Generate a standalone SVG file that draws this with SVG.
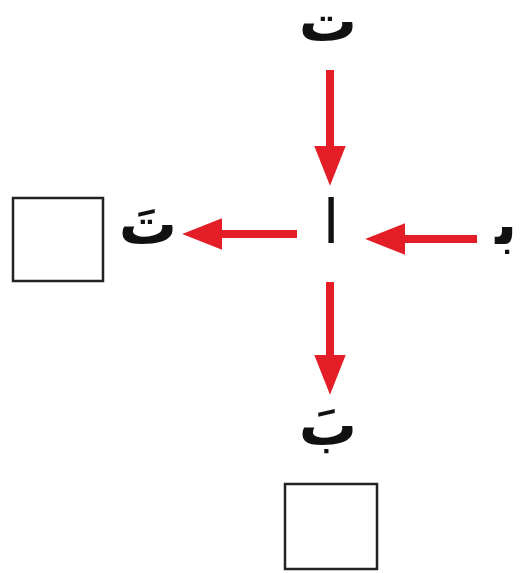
<svg xmlns="http://www.w3.org/2000/svg" width="520" height="573" viewBox="0 0 520 573">
<style>
.lbl{font-family:"DejaVu Sans",sans-serif;font-size:58px;font-weight:bold;fill:#111;text-anchor:middle}
.alef{font-family:"DejaVu Sans",sans-serif;font-size:60px;fill:#111;text-anchor:middle}
.arr{stroke:#e31e26;stroke-width:8;fill:none;marker-end:url(#head)}
.box{fill:#fff;stroke:#222;stroke-width:2.5}
</style>
<defs>
<marker id="head" markerUnits="userSpaceOnUse" markerWidth="42" markerHeight="32" refX="2" refY="15" orient="auto" viewBox="0 0 40 30">
<path d="M0,0 L38,15 L0,30 z" fill="#e31e26"/>
</marker>
</defs>
<rect width="520" height="573" fill="#fff"/>
<g id="connectors">
<line class="arr" x1="330" y1="70" x2="330" y2="148"/>
<line class="arr" x1="297" y1="234" x2="220" y2="234"/>
<line class="arr" x1="477" y1="239" x2="403" y2="239"/>
<line class="arr" x1="330" y1="282" x2="330" y2="357"/>
</g>
<g id="n-top"><text class="lbl" x="328" y="41">ت</text></g>
<g id="n-center"><text class="alef" x="331" y="243">ا</text></g>
<g id="n-right"><text class="lbl" x="517" y="244" style="text-anchor:end">ﺑ</text></g>
<g id="n-left"><text class="lbl" x="148" y="244">تَ</text></g>
<g id="n-bottom"><text class="lbl" x="328" y="445">بَ</text></g>
<g id="box-left"><rect class="box" x="13" y="198" width="90" height="83"/></g>
<g id="box-bottom"><rect class="box" x="285" y="484" width="92" height="85"/></g>
</svg>
